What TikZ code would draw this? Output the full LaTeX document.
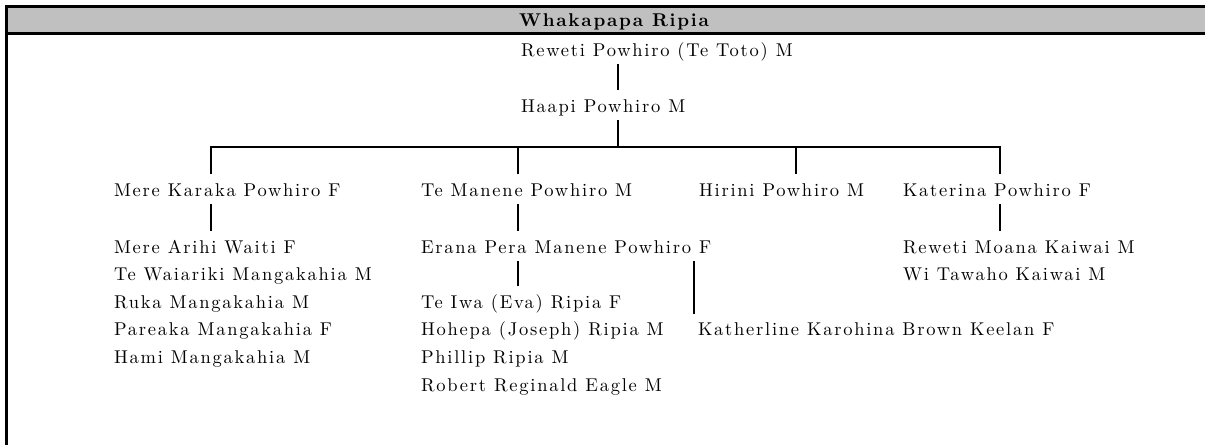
\documentclass[tikz,border=0pt]{standalone}
\usepackage{fontspec}
\setmainfont{lmroman10-regular.otf}[BoldFont=lmroman10-bold.otf, LetterSpace=9.5]
\usetikzlibrary{calc}

\definecolor{bandgray}{HTML}{C0C0C0}
\tikzset{
  person/.style={anchor=base west, inner sep=0pt, outer xsep=0pt, outer ysep=4pt,
    text height=18pt, text depth=4pt, font=\fontsize{18.5}{22}\selectfont},
  heading/.style={anchor=base, inner sep=0pt, font=\fontsize{18.5}{22}\selectfont\bfseries},
  link/.style={line width=2.6pt},
  frame/.style={line width=3pt},
}

\begin{document}
\begin{tikzpicture}[x=1pt, y=-1pt]
    \useasboundingbox (0,0) rectangle (1205,445);

    % Title band
    \fill[bandgray] (6.5,6) rectangle (1205,33.5);
    \draw[frame] (1205,6) -- (6.5,6) -- (6.5,445);
    \draw[frame] (6.5,33.5) -- (1205,33.5);
    \node[heading] (title) at (614,26) {Whakapapa Ripia};

    % Ancestors
    \node[person] (reweti) at (521,56) {Reweti Powhiro (Te Toto) M};
    \node[person] (haapi) at (521,112) {Haapi Powhiro M};

    % Children
    \node[person] (mereK) at (114,196) {Mere Karaka Powhiro F};
    \node[person] (manene) at (421,196) {Te Manene Powhiro M};
    \node[person] (hirini) at (699,196) {Hirini Powhiro M};
    \node[person] (katerina) at (903,196) {Katerina Powhiro F};

    % Grandchildren
    \node[person] (arihi) at (114,253) {Mere Arihi Waiti F};
    \node[person] (waiariki) at (114,280.6) {Te Waiariki Mangakahia M};
    \node[person] (ruka) at (114,308.2) {Ruka Mangakahia M};
    \node[person] (pareaka) at (114,335.8) {Pareaka Mangakahia F};
    \node[person] (hami) at (114,363.4) {Hami Mangakahia M};
    \node[person] (erana) at (421,253) {Erana Pera Manene Powhiro F};
    \node[person] (moana) at (903,253) {Reweti Moana Kaiwai M};
    \node[person] (tawaho) at (903,280.6) {Wi Tawaho Kaiwai M};

    % Great-grandchildren
    \node[person] (teiwa) at (421,308.2) {Te Iwa (Eva) Ripia F};
    \node[person] (hohepa) at (421,335.8) {Hohepa (Joseph) Ripia M};
    \node[person] (phillip) at (421,363.4) {Phillip Ripia M};
    \node[person] (robert) at (421,391) {Robert Reginald Eagle M};
    \node[person] (kath) at (698,335.8) {Katherline Karohina Brown Keelan F};

    % Lines of descent
    \path ([xshift=97pt]haapi.south west) coordinate (haapiDrop)
          ([xshift=97pt]mereK.north west) coordinate (mereKTop)
          ([xshift=97pt]katerina.north west) coordinate (katerinaTop)
          ([xshift=-4pt]kath.north west) coordinate (kathTop);
    \coordinate (fork) at ($(haapiDrop)!0.5!(haapiDrop |- mereK.north)$);

    \draw[link] ([xshift=97pt]reweti.south west) -- ([xshift=97pt]haapi.north west);
    \draw[link] (haapiDrop) -- (fork);
    \draw[link] (mereKTop) |- (fork) -| (katerinaTop);
    \draw[link] ([xshift=97pt]manene.north west) |- (fork);
    \draw[link] ([xshift=97pt]hirini.north west) |- (fork);

    \draw[link] ([xshift=97pt]mereK.south west) -- ([xshift=97pt]arihi.north west);
    \draw[link] ([xshift=97pt]manene.south west) -- ([xshift=97pt]erana.north west);
    \draw[link] ([xshift=97pt]katerina.south west) -- ([xshift=97pt]moana.north west);
    \draw[link] ([xshift=97pt]erana.south west) -- ([xshift=97pt]teiwa.north west);
    \draw[link] (kathTop |- erana.south) -- (kathTop);
\end{tikzpicture}
\end{document}
